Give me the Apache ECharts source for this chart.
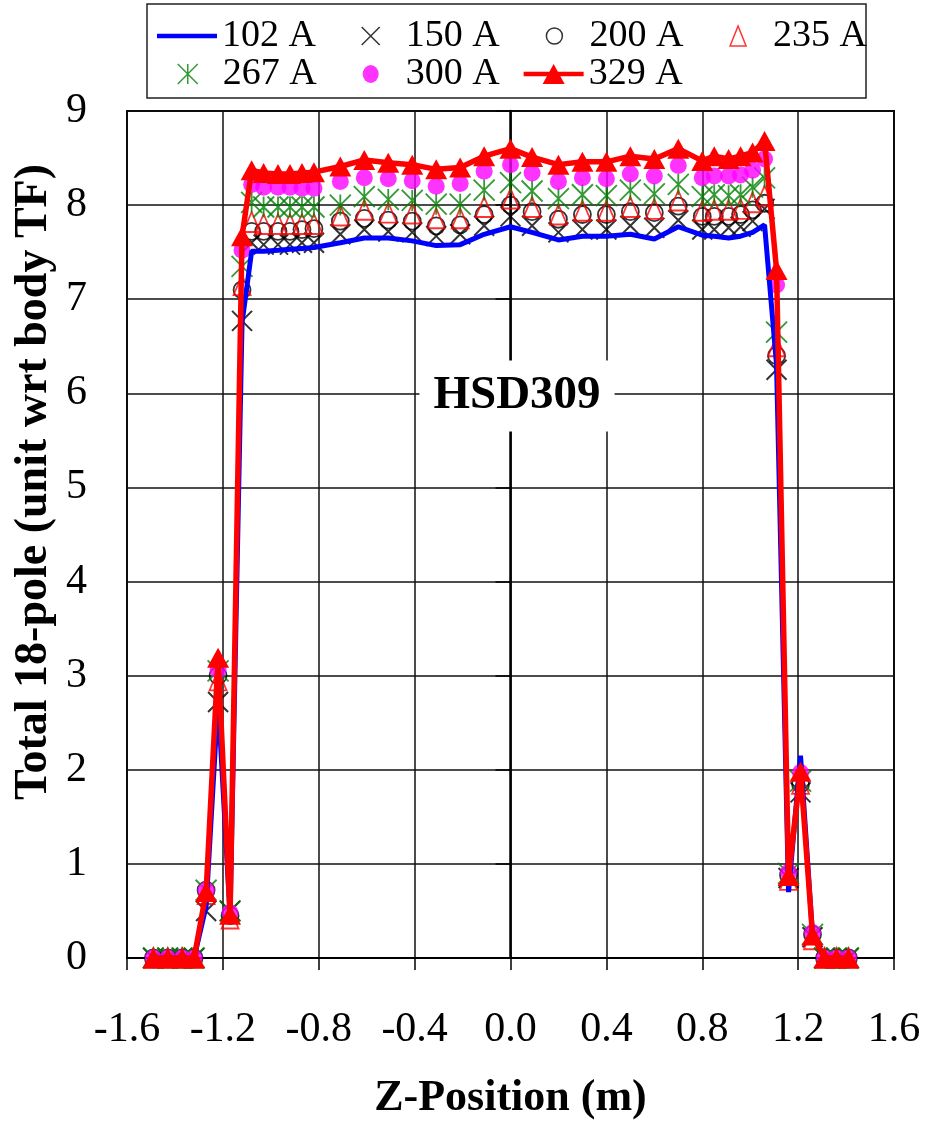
<!DOCTYPE html>
<html><head><meta charset="utf-8">
<script src="https://cdn.jsdelivr.net/npm/echarts@6/dist/echarts.min.js"></script>
<style>html,body{margin:0;padding:0;background:#fff}#c{width:928px;height:1126px}</style>
</head><body><div id="c"></div>
<script>
// ---- data ----
const zPos = [-1.49, -1.43, -1.37, -1.32, -1.27, -1.22, -1.17, -1.12, -1.08, -1.03, -0.97, -0.92, -0.87, -0.82,
  -0.71, -0.61, -0.51, -0.41, -0.31, -0.21, -0.11, 0.00, 0.09, 0.20, 0.30, 0.40, 0.50, 0.60, 0.70, 0.80,
  0.85, 0.91, 0.96, 1.01, 1.06, 1.11, 1.16, 1.21, 1.26, 1.31, 1.36, 1.41];
const seriesNames = ['102 A', '150 A', '200 A', '235 A', '267 A', '300 A', '329 A'];
const a102 = [0, 0, 0, 0, 0.55, 2.75, 0.45, 6.75, 7.51, 7.51, 7.52, 7.53, 7.54, 7.55,
  7.60, 7.65, 7.65, 7.62, 7.57, 7.58, 7.69, 7.77, 7.71, 7.63, 7.67, 7.67, 7.69, 7.64, 7.77, 7.68,
  7.67, 7.65, 7.67, 7.71, 7.79, 6.30, 0.70, 2.15, 0.25, 0, 0, 0];
const a150 = [0, 0, 0, 0, 0.50, 2.72, 0.50, 6.77, 7.60, 7.58, 7.58, 7.58, 7.60, 7.60,
  7.69, 7.74, 7.72, 7.71, 7.67, 7.69, 7.78, 7.88, 7.78, 7.71, 7.74, 7.74, 7.78, 7.76, 7.84, 7.74,
  7.74, 7.76, 7.77, 7.83, 7.96, 6.25, 0.85, 1.76, 0.22, 0, 0, 0];
const a200 = [0, 0, 0, 0, 0.72, 3.00, 0.45, 7.10, 7.72, 7.72, 7.72, 7.72, 7.74, 7.75,
  7.83, 7.86, 7.84, 7.83, 7.78, 7.79, 7.90, 8.00, 7.93, 7.85, 7.90, 7.90, 7.93, 7.92, 7.99, 7.88,
  7.88, 7.88, 7.90, 7.95, 8.02, 6.40, 0.88, 1.85, 0.25, 0, 0, 0];
const a235 = [0, 0, 0, 0, 0.68, 2.95, 0.42, 7.15, 7.82, 7.80, 7.80, 7.80, 7.80, 7.80,
  7.89, 7.95, 7.92, 7.91, 7.86, 7.86, 7.98, 8.07, 7.98, 7.90, 7.94, 7.94, 7.98, 7.96, 8.05, 7.94,
  7.95, 7.95, 7.96, 8.03, 8.10, 6.50, 0.83, 1.85, 0.20, 0, 0, 0];
const a267 = [0, 0, 0, 0, 0.72, 3.05, 0.50, 7.35, 8.03, 7.98, 7.98, 7.98, 7.98, 7.98,
  8.00, 8.09, 8.06, 8.05, 8.01, 8.01, 8.16, 8.24, 8.15, 8.07, 8.11, 8.10, 8.16, 8.12, 8.22, 8.09,
  8.11, 8.10, 8.11, 8.19, 8.29, 6.65, 0.90, 1.88, 0.25, 0, 0, 0];
const a300 = [0, 0, 0, 0, 0.72, 3.06, 0.48, 7.52, 8.22, 8.19, 8.19, 8.19, 8.18, 8.18,
  8.25, 8.29, 8.28, 8.26, 8.20, 8.23, 8.36, 8.43, 8.34, 8.25, 8.29, 8.28, 8.33, 8.31, 8.42, 8.29,
  8.31, 8.31, 8.32, 8.37, 8.49, 7.15, 0.91, 1.97, 0.27, 0, 0, 0];
const a329 = [0, 0, 0, 0, 0.70, 3.19, 0.46, 7.67, 8.37, 8.34, 8.33, 8.33, 8.34, 8.35,
  8.41, 8.48, 8.45, 8.43, 8.38, 8.40, 8.52, 8.60, 8.51, 8.43, 8.46, 8.46, 8.52, 8.49, 8.60, 8.47,
  8.52, 8.49, 8.52, 8.56, 8.68, 7.31, 0.87, 1.98, 0.24, 0, 0, 0];
const xTitle = 'Z-Position (m)';
const yTitle = 'Total 18-pole (unit wrt body TF)';
const noteText = 'HSD309';

// ---- chart ----
const FONT = '"Liberation Serif", "Times New Roman", serif';
const pairs = vals => zPos.map((z, i) => [z, vals[i]]);
const X_SYM = 'path://M0,0L20,20M20,0L0,20';
const STAR_SYM = 'path://M0,0L20,20M20,0L0,20M10,0L10,20';
const BOX = 'path://M0,0M60,24';
const chart = echarts.init(document.getElementById('c'), null, {renderer: 'canvas'});

const scatterBase = {type: 'scatter', clip: false, emphasis: {disabled: true}, silent: true};
const option = {
  animation: false,
  backgroundColor: '#fff',
  grid: {left: 127, right: 34, top: 111, bottom: 165, show: true, borderColor: '#000', borderWidth: 2, backgroundColor: 'transparent'},
  xAxis: {
    type: 'value', min: -1.6, max: 1.6, interval: 0.4,
    name: xTitle, nameLocation: 'middle', nameGap: 119,
    nameTextStyle: {fontSize: 44, fontWeight: 'bold', fontFamily: FONT, color: '#000'},
    axisLine: {show: true, onZero: false, lineStyle: {color: '#000', width: 2}},
    axisTick: {show: true, inside: false, length: 12, lineStyle: {color: '#000', width: 1.5}},
    axisLabel: {fontSize: 42, fontFamily: FONT, color: '#000', margin: 51,
      formatter: v => (Math.abs(v) < 1e-9 ? 0 : v).toFixed(1)},
    splitLine: {show: true, lineStyle: {color: '#111', width: 1.5}}
  },
  yAxis: {
    type: 'value', min: 0, max: 9, interval: 1,
    axisLine: {show: true, lineStyle: {color: '#000', width: 2.5}},
    axisTick: {show: true, inside: false, length: 15, lineStyle: {color: '#000', width: 1.5}},
    axisLabel: {fontSize: 42, fontFamily: FONT, color: '#000', margin: 40},
    splitLine: {show: true, lineStyle: {color: '#111', width: 1.5}}
  },
  legend: [
    {
      z: 10, left: 157, top: 17, padding: 0, itemWidth: 60, itemHeight: 24, itemGap: 24, selectedMode: false,
      textStyle: {fontSize: 38, fontFamily: FONT, color: '#000'},
      data: [
        {name: seriesNames[0], icon: BOX + 'M0,9.75H60V14.25H0Z', itemStyle: {color: '#0000FF', borderWidth: 0}},
        {name: seriesNames[1], icon: BOX + 'M21,3L39,21M39,3L21,21', itemStyle: {color: 'transparent', borderColor: '#000', borderWidth: 1.5}},
        {name: seriesNames[2], icon: BOX + 'M38,12A8,8 0 1,1 22,12A8,8 0 1,1 38,12Z', itemStyle: {color: 'transparent', borderColor: '#000', borderWidth: 1.5}},
        {name: seriesNames[3], icon: BOX + 'M30,2L38,22L22,22Z', itemStyle: {color: 'transparent', borderColor: '#FF0000', borderWidth: 1.5}}
      ]
    },
    {
      z: 10, left: 157, top: 55, padding: 0, itemWidth: 60, itemHeight: 24, itemGap: 24, selectedMode: false,
      textStyle: {fontSize: 38, fontFamily: FONT, color: '#000'},
      data: [
        {name: seriesNames[4], icon: BOX + 'M20,2L40,22M40,2L20,22M30,2L30,22', itemStyle: {color: 'transparent', borderColor: '#008000', borderWidth: 1.5}},
        {name: seriesNames[5], icon: BOX + 'M38,12A8,9 0 1,1 22,12A8,9 0 1,1 38,12Z', itemStyle: {color: '#FF00FF', borderWidth: 0}},
        {name: seriesNames[6], icon: BOX + 'M0,9.75H60V14.25H0ZM30,2L41,22L19,22Z', itemStyle: {color: '#FF0000', borderWidth: 0}}
      ]
    }
  ],
  graphic: [
    {type: 'rect', z: 1, shape: {x: 147, y: 4, width: 719, height: 94}, style: {fill: '#fff', stroke: '#222', lineWidth: 1.5}},
    {type: 'text', z: 20, x: 517, y: 396, style: {text: noteText, font: 'bold 47px ' + FONT, fill: '#000', align: 'center', verticalAlign: 'middle', backgroundColor: '#fff', padding: [12, 14]}},
    {type: 'text', z: 20, x: 34, y: 482, rotation: Math.PI / 2, style: {text: yTitle, font: 'bold 46px ' + FONT, fill: '#000', align: 'center', verticalAlign: 'middle'}}
  ],
  series: [
    {name: seriesNames[0], type: 'line', data: pairs(a102), symbol: 'none', clip: false, silent: true,
      lineStyle: {color: '#0000FF', width: 5}, itemStyle: {color: '#0000FF'}, emphasis: {disabled: true}},
    Object.assign({}, scatterBase, {name: seriesNames[1], data: pairs(a150), symbol: X_SYM, symbolSize: 20,
      itemStyle: {color: 'transparent', borderColor: '#000', borderWidth: 2}}),
    Object.assign({}, scatterBase, {name: seriesNames[2], data: pairs(a200), symbol: 'circle', symbolSize: 17,
      itemStyle: {color: 'transparent', borderColor: '#000', borderWidth: 1.8}}),
    Object.assign({}, scatterBase, {name: seriesNames[3], data: pairs(a235), symbol: 'triangle', symbolSize: [17, 20],
      itemStyle: {color: 'transparent', borderColor: '#FF0000', borderWidth: 1.8}}),
    Object.assign({}, scatterBase, {name: seriesNames[4], data: pairs(a267), symbol: STAR_SYM, symbolSize: 21,
      itemStyle: {color: 'transparent', borderColor: '#008000', borderWidth: 1.8}}),
    Object.assign({}, scatterBase, {name: seriesNames[5], data: pairs(a300), symbol: 'circle', symbolSize: 17,
      itemStyle: {color: '#FF00FF', borderWidth: 0}}),
    {name: seriesNames[6], type: 'line', data: pairs(a329), symbol: 'triangle', symbolSize: [22, 20], showSymbol: true, showAllSymbol: true,
      clip: false, silent: true, lineStyle: {color: '#FF0000', width: 5.5}, itemStyle: {color: '#FF0000'}, emphasis: {disabled: true}}
  ]
};
chart.setOption(option);
</script></body></html>
